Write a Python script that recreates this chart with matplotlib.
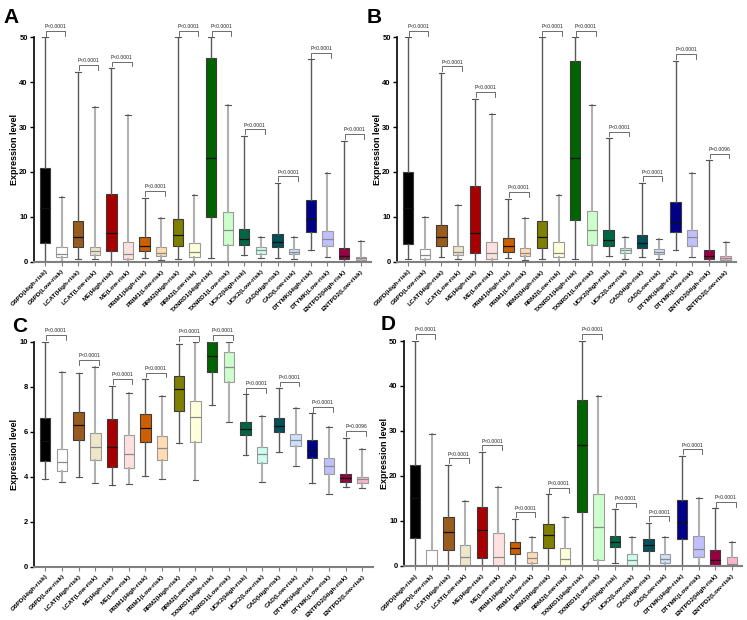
import matplotlib
matplotlib.use('Agg')
import matplotlib.pyplot as plt
import numpy as np

plt.rcParams['font.family'] = ['Liberation Sans Narrow', 'Liberation Sans', 'DejaVu Sans']

genes = ['G6PD', 'LCAT', 'ME', 'PRIM1', 'RRM2', 'TXNRD1', 'UCK2', 'CAD', 'DTYMK', 'ENTPD2']
groups = ['High-risk', 'Low-risk']
labels = ['%s(%s)' % (g, r) for g in genes for r in groups]

high_colors = ['#000000', '#9a5b1e', '#a80000', '#cc6000', '#7f7f00',
               '#006400', '#006644', '#00505a', '#000088', '#990044']
low_colors = ['#ffffff', '#ede6c8', '#ffe0e0', '#ffdcb4', '#ffffdc',
              '#ccffcc', '#ccffee', '#cce0ff', '#c0c0ff', '#ffb4d2']

# one row per box: whisker low, q1, median, q3, whisker high
stats_a = [
    (0.2, 4.1, 12.0, 20.9, 50.0), (0.1, 1.0, 1.7, 3.3, 14.5),
    (0.6, 3.2, 5.5, 9.0, 42.3), (0.5, 1.5, 2.3, 3.3, 34.4),
    (0.0, 2.3, 6.3, 15.1, 43.1), (0.0, 0.6, 1.7, 4.4, 32.8),
    (0.9, 2.4, 3.6, 5.4, 14.3), (0.3, 1.3, 1.9, 3.3, 9.7),
    (0.5, 3.6, 5.9, 9.5, 50.0), (0.0, 1.1, 2.2, 4.2, 14.8),
    (0.8, 10.0, 23.1, 45.4, 50.0), (0.0, 3.7, 7.0, 11.0, 35.0),
    (1.5, 3.7, 5.0, 7.3, 28.0), (0.8, 1.7, 2.5, 3.2, 5.4),
    (0.9, 3.2, 4.3, 6.1, 17.5), (0.7, 1.7, 2.2, 2.8, 5.6),
    (2.7, 6.7, 9.6, 13.7, 45.1), (1.0, 3.6, 5.0, 6.9, 19.8),
    (0.1, 0.6, 1.3, 3.0, 27.0), (0.0, 0.4, 0.8, 1.1, 4.7),
]
stats_b = [
    (0.7, 3.9, 12.0, 20.1, 50.0), (0.1, 0.7, 1.5, 2.8, 10.0),
    (1.0, 3.4, 5.4, 8.1, 42.0), (0.5, 1.4, 2.2, 3.4, 12.7),
    (0.0, 2.0, 6.3, 16.9, 36.3), (0.0, 0.5, 1.9, 4.5, 32.9),
    (0.8, 2.2, 3.6, 5.2, 14.0), (0.3, 1.3, 1.9, 3.1, 9.7),
    (0.5, 3.1, 5.4, 9.0, 50.0), (0.0, 1.0, 1.9, 4.3, 14.9),
    (0.7, 9.2, 23.1, 44.8, 50.0), (0.0, 3.7, 7.1, 11.3, 34.9),
    (1.3, 3.4, 4.8, 7.1, 27.5), (0.7, 1.9, 2.5, 3.1, 5.4),
    (1.0, 3.1, 4.2, 5.9, 17.5), (0.6, 1.7, 2.2, 2.8, 5.0),
    (2.7, 6.7, 8.8, 13.3, 44.8), (1.0, 3.6, 5.5, 7.1, 19.7),
    (0.0, 0.5, 1.3, 2.7, 22.6), (0.0, 0.4, 0.8, 1.2, 4.4),
]
stats_c = [
    (3.88, 4.71, 5.60, 6.62, 10.0), (3.78, 4.27, 4.67, 5.21, 8.67),
    (4.00, 5.63, 6.28, 6.89, 8.60), (3.70, 4.73, 5.33, 5.96, 8.89),
    (3.63, 4.43, 5.33, 6.58, 8.03), (3.67, 4.37, 5.00, 5.87, 7.73),
    (4.04, 5.53, 6.15, 6.77, 8.33), (3.88, 4.73, 5.29, 5.79, 7.59),
    (5.48, 6.93, 7.90, 8.49, 9.91), (3.84, 5.53, 6.64, 7.35, 9.97),
    (7.17, 8.64, 9.36, 9.97, 10.0), (6.44, 8.19, 8.86, 9.56, 9.97),
    (4.96, 5.84, 6.13, 6.41, 7.66), (3.76, 4.59, 4.99, 5.33, 6.70),
    (5.08, 5.97, 6.27, 6.62, 7.93), (4.47, 5.36, 5.61, 5.88, 7.07),
    (3.70, 4.81, 5.17, 5.61, 6.81), (3.23, 4.12, 4.47, 4.81, 6.19),
    (3.53, 3.78, 3.93, 4.10, 5.72), (3.48, 3.73, 3.88, 4.00, 5.21),
]
stats_d = [
    (0.0, 6.3, 15.0, 22.5, 50.0), (0.0, 0.0, 0.0, 3.6, 29.3),
    (0.0, 3.6, 7.5, 10.8, 22.4), (0.0, 0.0, 1.9, 4.7, 14.5),
    (0.0, 1.7, 8.1, 13.0, 25.3), (0.0, 0.0, 1.9, 7.3, 17.5),
    (0.0, 2.7, 3.9, 5.4, 10.4), (0.0, 0.6, 1.7, 3.0, 6.4),
    (0.0, 4.1, 6.8, 9.3, 15.9), (0.0, 0.0, 1.5, 4.1, 10.8),
    (0.0, 11.9, 26.9, 36.9, 50.0), (0.0, 1.3, 8.6, 16.1, 37.8),
    (0.6, 4.3, 5.4, 6.7, 12.6), (0.0, 0.0, 1.3, 2.6, 6.4),
    (0.0, 3.4, 4.6, 5.9, 9.5), (0.0, 0.6, 1.5, 2.7, 6.5),
    (0.0, 6.1, 9.8, 14.7, 24.4), (0.0, 1.9, 3.8, 6.7, 15.2),
    (0.0, 0.0, 1.3, 3.6, 12.8), (0.0, 0.0, 0.4, 1.9, 5.4),
]

p_a = ['P<0.0001'] * 10
p_b = ['P<0.0001'] * 9 + ['P=0.0096']
p_c = ['P<0.0001'] * 9 + ['P=0.0096']
p_d = ['P<0.0001'] * 10


def draw_panel(ax, stats, pvals, ymax, yticks):
    pos = np.arange(1, len(labels) + 1)
    for i, row in enumerate(stats):
        lo, q1, med, q3, hi = row
        s = dict(label=labels[i], whislo=lo, q1=q1, med=med, q3=q3, whishi=hi, fliers=[])
        high = (i % 2 == 0)
        if high:
            face = high_colors[i // 2]
            edge, wcol, wlw, mcol = '#3a3a3a', '#5a5a5a', 1.0, '#111111'
        else:
            face = low_colors[i // 2]
            edge, wcol, wlw, mcol = '#9a9a9a', '#b0b0b0', 1.5, '#8a8a8a'
        ax.bxp([s], positions=[pos[i]], widths=0.62, patch_artist=True, showfliers=False,
               capwidths=0.35,
               boxprops=dict(facecolor=face, edgecolor=edge, linewidth=0.8),
               whiskerprops=dict(color=wcol, linewidth=wlw),
               capprops=dict(color='#555555', linewidth=0.8),
               medianprops=dict(color=mcol, linewidth=0.9))
    # significance brackets
    for g in range(len(genes)):
        x1 = pos[2 * g] + 0.04
        x2 = pos[2 * g + 1] + 0.22
        y = max(stats[2 * g][4], stats[2 * g + 1][4]) + 0.03 * ymax
        t = 0.022 * ymax
        ax.plot([x1, x1, x2, x2], [y - t, y, y, y - t], color='#555555', lw=0.6, clip_on=False)
        ax.text((x1 + x2) / 2, y + 0.008 * ymax, pvals[g], fontsize=3.6, ha='center', va='bottom',
                color='#222222')
    ax.set_xlim(0.34, 20.62)
    ax.set_ylim(0, ymax)
    ax.set_yticks(yticks)
    ax.set_xticks(pos)
    ax.set_xticklabels(labels, rotation=45, ha='right', rotation_mode='anchor',
                       fontsize=4.6, fontweight='bold')
    for lab in ax.get_yticklabels():
        lab.set_fontweight('bold')
    ax.tick_params(axis='y', direction='out', length=3, width=1, labelsize=5.5, pad=1.5)
    ax.tick_params(axis='x', direction='out', length=3, width=0.8, color='#808080', pad=2)
    ax.spines['top'].set_visible(False)
    ax.spines['right'].set_visible(False)
    ax.spines['left'].set_linewidth(1.2)
    ax.spines['bottom'].set_color('#808080')
    ax.spines['bottom'].set_linewidth(1.5)
    ax.set_ylabel('Expression level', fontsize=6.5, fontweight='bold')
    ax.yaxis.set_label_coords(-0.045, 0.5)


fig = plt.figure(figsize=(7.47, 6.2), dpi=100)
ax_a = fig.add_axes([0.0455, 0.5779, 0.4511, 0.3619])
ax_b = fig.add_axes([0.5315, 0.5779, 0.4538, 0.3619])
ax_c = fig.add_axes([0.0459, 0.0860, 0.4530, 0.3629])
ax_d = fig.add_axes([0.5408, 0.0871, 0.4529, 0.3629])

draw_panel(ax_a, stats_a, p_a, 50, [0, 10, 20, 30, 40, 50])
draw_panel(ax_b, stats_b, p_b, 50, [0, 10, 20, 30, 40, 50])
draw_panel(ax_c, stats_c, p_c, 10, [0, 2, 4, 6, 8, 10])
draw_panel(ax_d, stats_d, p_d, 50, [0, 10, 20, 30, 40, 50])

fig.text(0.004, 0.987, 'A', fontsize=15, fontweight='bold', va='top')
fig.text(0.491, 0.987, 'B', fontsize=15, fontweight='bold', va='top')
fig.text(0.016, 0.489, 'C', fontsize=15, fontweight='bold', va='top')
fig.text(0.509, 0.492, 'D', fontsize=15, fontweight='bold', va='top')

fig.savefig('out.png', dpi=100)
